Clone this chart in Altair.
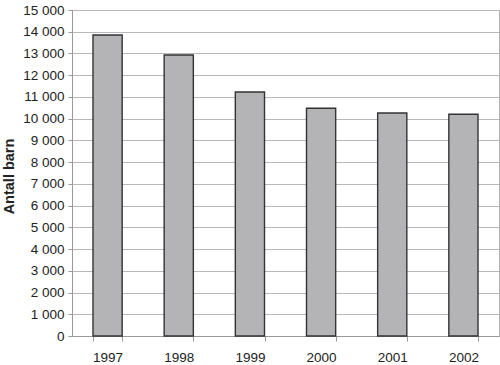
import altair as alt
import pandas as pd

years = ["1997", "1998", "1999", "2000", "2001", "2002"]
values = [13850, 12930, 11230, 10480, 10260, 10200]

df = pd.DataFrame({"year": years, "value": values})

bars = alt.Chart(df).mark_bar(
    color="#b4b4b7", stroke="#333333", strokeWidth=1.4
).encode(
    x=alt.X("year:N", sort=years, title=None,
            scale=alt.Scale(paddingInner=0.59, paddingOuter=0.295),
            axis=alt.Axis(labelAngle=0, tickBand="extent", tickSize=5,
                          tickColor="#999999", domainColor="#999999",
                          labelPadding=9, labelFontSize=13.5,
                          labelFont="Liberation Sans", labelColor="#222222",
                          grid=False)),
    y=alt.Y("value:Q", title="Antall barn",
            scale=alt.Scale(domain=[0, 15000], nice=False),
            axis=alt.Axis(values=list(range(0, 15001, 1000)),
                          labelExpr="replace(format(datum.value, ','), ',', ' ')",
                          tickSize=4, labelPadding=4, labelFontSize=13.5,
                          labelFont="Liberation Sans", labelColor="#222222",
                          tickColor="#999999", domainColor="#999999",
                          gridColor="#b8b8b8", gridWidth=1,
                          titleFont="Liberation Sans", titleFontSize=14.5,
                          titleFontWeight="bold", titleColor="#222222",
                          titleX=-63, titleY=166, titleAlign="center",
                          titleBaseline="middle", titleAngle=270)),
)

chart = bars.properties(
    width=427, height=326,
    autosize=alt.AutoSizeParams(type="none"),
    padding={"left": 72, "top": 10, "right": 1, "bottom": 29},
).configure_view(stroke="#b0b0b0", strokeWidth=1)

chart.save("out.html", embed_options={"renderer": "svg", "actions": False})
